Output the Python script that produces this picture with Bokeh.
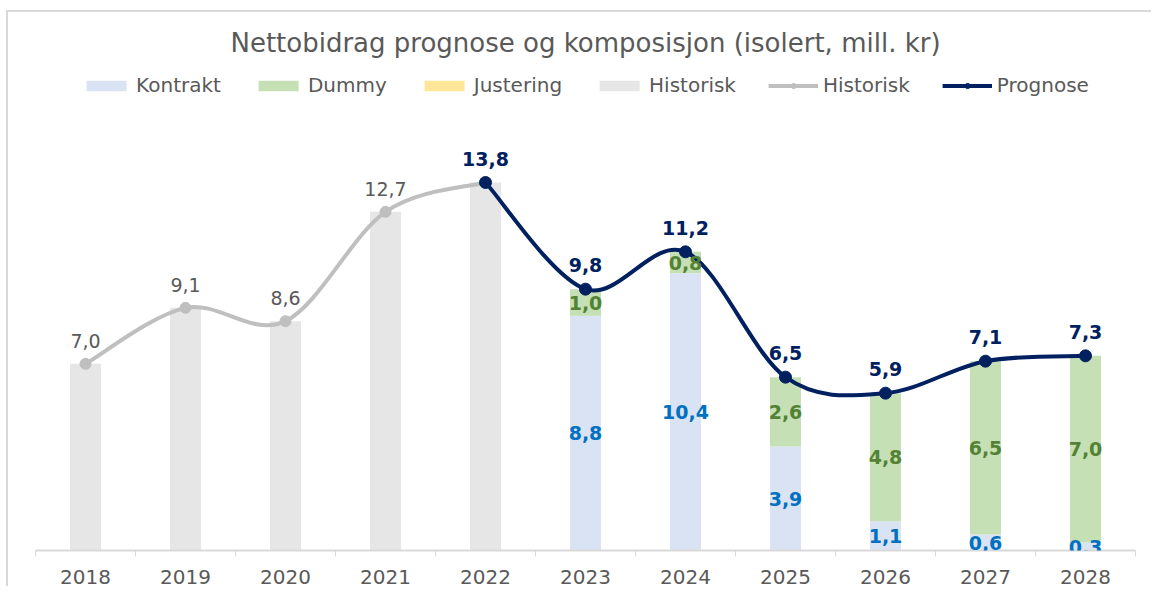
import numpy as np
from bokeh.plotting import figure
from bokeh.models import (ColumnDataSource, Range1d, FixedTicker, Legend, LegendItem, Label, LabelSet)
from bokeh.core.properties import value
from bokeh.embed import file_html
from bokeh.resources import INLINE

# ---------------- data ----------------
years = ["2018", "2019", "2020", "2021", "2022", "2023", "2024", "2025", "2026", "2027", "2028"]
historisk = [7.0, 9.1, 8.6, 12.7, 13.8, 0, 0, 0, 0, 0, 0]
kontrakt = [0, 0, 0, 0, 0, 8.8, 10.4, 3.9, 1.1, 0.6, 0.3]
dummy = [0, 0, 0, 0, 0, 1.0, 0.8, 2.6, 4.8, 6.5, 7.0]
justering = [0, 0, 0, 0, 0, 0, 0, 0, 0, 0, 0]
hist_line_years = ["2018", "2019", "2020", "2021", "2022"]
hist_line = [7.0, 9.1, 8.6, 12.7, 13.8]
prog_years = ["2022", "2023", "2024", "2025", "2026", "2027", "2028"]
prognose = [13.8, 9.8, 11.2, 6.5, 5.9, 7.1, 7.3]

title_text = "Nettobidrag prognose og komposisjon (isolert, mill. kr)"

# ---------------- styling ----------------
C_KONTRAKT = "#dae3f3"
C_DUMMY = "#c5e0b4"
C_JUST = "#ffe699"
C_HIST = "#e7e6e6"
C_HLINE = "#bfbfbf"
C_PROG = "#002060"
C_TEXT = "#595959"
FNAME = "DejaVu Sans"

idx = {y: i for i, y in enumerate(years)}
xs = list(range(len(years)))

def fmt(v):
    return f"{v:.1f}".replace(".", ",")

W, H = 1145, 576
BL, BR, BB = 27, 18, 38
FRAME_H = H - BB
PX_PER_UNIT = 368 / 13.8  # ~26.67 px per unit
YMAX = FRAME_H / PX_PER_UNIT

p = figure(width=W, height=H,
           x_range=Range1d(-0.5, 10.5), y_range=Range1d(0, YMAX),
           output_backend="svg", toolbar_location=None,
           min_border_left=BL, min_border_right=BR, min_border_top=0, min_border_bottom=BB,
           x_axis_location="below", y_axis_location=None)
p.outline_line_color = None
p.xgrid.grid_line_color = None
p.ygrid.grid_line_color = None
p.background_fill_color = "white"
p.border_fill_color = "white"
p.styles = {
    "margin-left": "6px",
    "margin-top": "10px",
    "border-left": "2px solid #d9d9d9",
    "border-top": "2px solid #d9d9d9",
}

src = ColumnDataSource(dict(x=xs, kontrakt=kontrakt, dummy=dummy, justering=justering, historisk=historisk))
bars = p.vbar_stack(["kontrakt", "dummy", "justering", "historisk"], x="x", width=0.31,
                    color=[C_KONTRAKT, C_DUMMY, C_JUST, C_HIST], line_color=None, source=src)

# smooth (Excel-like) curves via Bezier segments
def bezier_source(xv, yv):
    n = len(xv)
    d = dict(x0=[], y0=[], x1=[], y1=[], cx0=[], cy0=[], cx1=[], cy1=[])
    for i in range(n - 1):
        a = i - 1 if i > 0 else i
        b = i + 2 if i + 2 < n else i + 1
        d["x0"].append(xv[i]); d["y0"].append(yv[i])
        d["x1"].append(xv[i + 1]); d["y1"].append(yv[i + 1])
        d["cx0"].append(xv[i] + (xv[i + 1] - xv[a]) / 6)
        d["cy0"].append(yv[i] + (yv[i + 1] - yv[a]) / 6)
        d["cx1"].append(xv[i + 1] - (xv[b] - xv[i]) / 6)
        d["cy1"].append(yv[i + 1] - (yv[b] - yv[i]) / 6)
    return ColumnDataSource(d)

hx = [idx[y] for y in hist_line_years]
px = [idx[y] for y in prog_years]

p.bezier(x0="x0", y0="y0", x1="x1", y1="y1", cx0="cx0", cy0="cy0", cx1="cx1", cy1="cy1",
         source=bezier_source(hx, hist_line), line_color=C_HLINE, line_width=4, line_cap="round")
hist_pts = p.scatter(hx, hist_line, size=11, color=C_HLINE, marker="circle")
p.bezier(x0="x0", y0="y0", x1="x1", y1="y1", cx0="cx0", cy0="cy0", cx1="cx1", cy1="cy1",
         source=bezier_source(px, prognose), line_color=C_PROG, line_width=4, line_cap="round")
prog_pts = p.scatter(px, prognose, size=12, color=C_PROG, marker="circle")

# legend-only line renderers
nan = np.array([np.nan])
hist_leg = p.line(nan, nan, line_color=C_HLINE, line_width=4)
prog_leg = p.line(nan, nan, line_color=C_PROG, line_width=4)

# data labels
def labels(x, y, t, color, bold, yoff):
    s = ColumnDataSource(dict(x=x, y=y, t=t))
    p.add_layout(LabelSet(x="x", y="y", text="t", source=s, text_font=value(FNAME),
                          text_font_size=value("19px"),
                          text_font_style=value("bold" if bold else "normal"), text_color=value(color),
                          text_align=value("center"), text_baseline=value("middle"), y_offset=yoff))

# historic labels (2022 is labelled by the forecast line)
labels(hx[:-1], hist_line[:-1], [fmt(v) for v in hist_line[:-1]], C_TEXT, False, 23)
labels(px, prognose, [fmt(v) for v in prognose], C_PROG, True, 24)
kx = [i for i in xs if kontrakt[i] > 0]
labels(kx, [kontrakt[i] / 2 for i in kx], [fmt(kontrakt[i]) for i in kx], "#0070c0", True, 0)
dx = [i for i in xs if dummy[i] > 0]
labels(dx, [kontrakt[i] + dummy[i] / 2 for i in dx], [fmt(dummy[i]) for i in dx], "#548235", True, 0)

# title
p.add_layout(Label(x=5, y=(FRAME_H - 30) / PX_PER_UNIT, text=title_text, text_font=FNAME,
                   text_font_size="26px", text_color=C_TEXT, text_align="center", text_baseline="middle"))

# legend
items = [
    LegendItem(label="Kontrakt", renderers=[bars[0]]),
    LegendItem(label="Dummy", renderers=[bars[1]]),
    LegendItem(label="Justering", renderers=[bars[2]]),
    LegendItem(label="Historisk", renderers=[bars[3]]),
    LegendItem(label="Historisk", renderers=[hist_leg, hist_pts]),
    LegendItem(label="Prognose", renderers=[prog_leg, prog_pts]),
]
legend = Legend(items=items, orientation="horizontal", location="top", margin=61,
                glyph_width=50, glyph_height=13, label_standoff=5, spacing=32, padding=4,
                label_text_font=FNAME, label_text_font_size="20px", label_text_color=C_TEXT,
                border_line_color=None, background_fill_alpha=0)
p.add_layout(legend, "center")

# x axis
ax = p.xaxis[0]
ax.ticker = FixedTicker(ticks=xs, minor_ticks=[i - 0.5 for i in range(len(years) + 1)])
ax.major_label_overrides = {i: y for i, y in enumerate(years)}
ax.major_tick_out = 0
ax.major_tick_in = 0
ax.minor_tick_out = 6
ax.minor_tick_in = 0
ax.minor_tick_line_color = "#d9d9d9"
ax.axis_line_color = "#d9d9d9"
ax.axis_line_width = 2
ax.major_label_standoff = 13
ax.major_label_text_font = FNAME
ax.major_label_text_font_size = "20px"
ax.major_label_text_color = C_TEXT

open("out.html", "w").write(file_html(p, INLINE))
